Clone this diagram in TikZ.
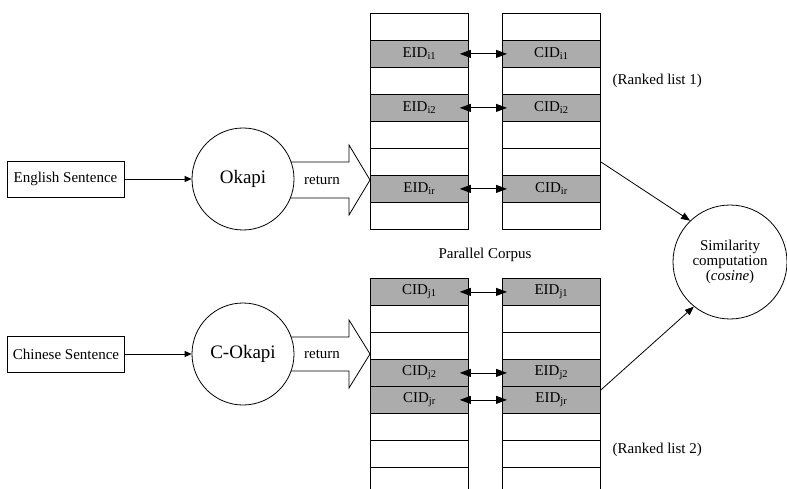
\documentclass[tikz,border=0pt]{standalone}
\usepackage{fontspec}
\setmainfont{Liberation Serif}
\usetikzlibrary{arrows.meta}

\begin{document}
\begin{tikzpicture}[x=1pt, y=-1pt, line width=0.8pt,
    font=\fontsize{15}{17}\selectfont,
    cell/.style={draw, minimum width=98pt, minimum height=27pt, inner sep=0pt, anchor=north west},
    hit/.style={cell, fill=gray!65},
    engine/.style={draw, circle, fill=white, minimum size=102pt, inner sep=0pt, font=\fontsize{19}{21}\selectfont},
    sentence/.style={draw, fill=white, minimum width=117pt, minimum height=36pt, inner sep=0pt},
    bigarrow/.style={draw, fill=white},
    pair/.style={{Triangle[length=11pt,width=8pt]}-{Triangle[length=11pt,width=8pt]}},
    feed/.style={-{Triangle[length=7pt,width=6pt]}},
    tosim/.style={-{Triangle[length=9pt,width=7pt]}}]
    \path[use as bounding box, clip] (0,0) rectangle (787,489);

    % the two ranked lists, eight slots per column
    \foreach \r in {1,...,8} {
        \node[cell] (ta\r) at (370,{13+27*(\r-1)}) {};
        \node[cell] (tb\r) at (502,{13+27*(\r-1)}) {};
        \node[cell] (ba\r) at (370,{278+27*(\r-1)}) {};
        \node[cell] (bb\r) at (502,{278+27*(\r-1)}) {};
    }

    % aligned sentence ids
    \foreach \r/\s in {2/i1,4/i2,7/ir} {
        \node[hit] (te\r) at (370,{13+27*(\r-1)}) {EID\textsubscript{\s}};
        \node[hit] (tc\r) at (502,{13+27*(\r-1)}) {CID\textsubscript{\s}};
        \draw[pair] ([xshift=-9pt]te\r.east) -- ([xshift=5pt]tc\r.west);
    }
    \foreach \r/\s in {1/j1,4/j2,5/jr} {
        \node[hit] (bc\r) at (370,{278+27*(\r-1)}) {CID\textsubscript{\s}};
        \node[hit] (be\r) at (502,{278+27*(\r-1)}) {EID\textsubscript{\s}};
        \draw[pair] ([xshift=-9pt]bc\r.east) -- ([xshift=5pt]be\r.west);
    }

    % return arrows
    \draw[bigarrow] (285,162) -- (349,162) -- (349,145) -- (370,180) -- (349,215) -- (349,198) -- (285,198) -- cycle;
    \draw[bigarrow] (285,337) -- (349,337) -- (349,320) -- (370,354) -- (349,388) -- (349,371) -- (285,371) -- cycle;
    \node (ret1) at (322,180) {return};
    \node (ret2) at (322,354) {return};

    \node[sentence] (en) at (65.5,179) {English Sentence};
    \node[sentence] (ch) at (66,354) {Chinese Sentence};
    \node[engine] (okapi) at (243,179) {Okapi};
    \node[engine] (cokapi) at (243,354) {C-Okapi};
    \draw[feed] (en) -- (okapi);
    \draw[feed] (ch) -- (cokapi);

    \node[anchor=west] (rank1) at (609,81) {(Ranked list 1)};
    \node[anchor=west] (rank2) at (609,450) {(Ranked list 2)};
    \node (corpus) at (485,255) {Parallel Corpus};

    \node[draw, circle, minimum size=114pt, inner sep=0pt, align=center,
          font=\fontsize{15}{15}\selectfont] (sim) at (730,262)
        {Similarity\\computation\\(\textit{cosine})};
    \draw[tosim] (tb6.east) -- (sim.134);
    \draw[tosim] ([yshift=-4pt]bb5.north east) -- (sim.231);

\end{tikzpicture}
\end{document}
